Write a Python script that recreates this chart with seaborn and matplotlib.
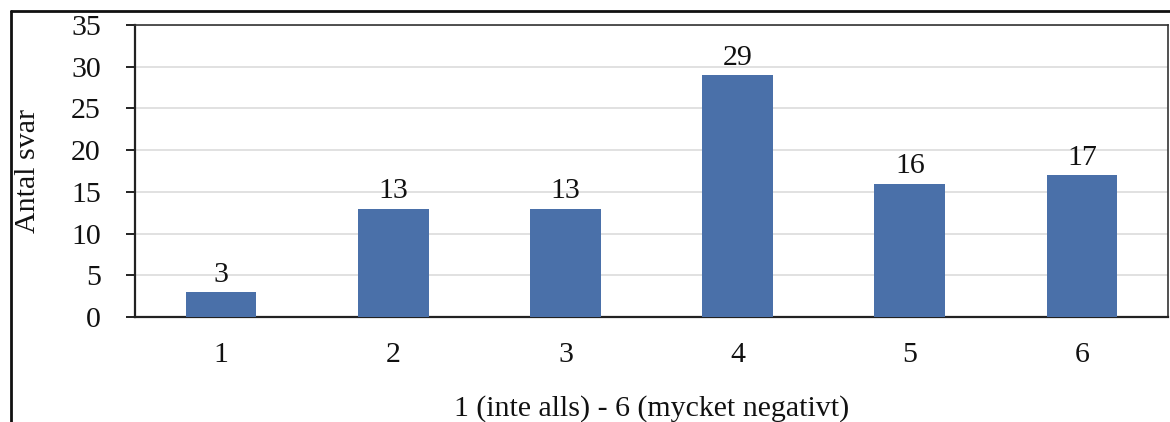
import matplotlib
matplotlib.use("Agg")
import matplotlib.pyplot as plt
from matplotlib.lines import Line2D
import seaborn as sns
import pandas as pd

categories = ["1", "2", "3", "4", "5", "6"]
counts = [3, 13, 13, 29, 16, 17]
y_ticks = [0, 5, 10, 15, 20, 25, 30, 35]

sns.set_theme(style="white")
plt.rcParams["font.family"] = ["Liberation Serif", "DejaVu Serif"]

FS = 21.5
df = pd.DataFrame({"Svar": categories, "Antal": counts})

fig = plt.figure(figsize=(11.7, 4.22), dpi=100)
ax = fig.add_axes([0.1154, 0.2488, 0.8829, 0.692])

sns.barplot(data=df, x="Svar", y="Antal", color="#4a70a9", width=0.41,
            saturation=1, linewidth=0, ax=ax, zorder=3)

for p, v in zip(ax.patches, counts):
    ax.text(p.get_x() + p.get_width() / 2, v + 0.5, str(v),
            ha="center", va="bottom", fontsize=FS, color="#111111")

ax.set_ylim(0, 35)
ax.set_xlim(-0.5, 5.5)
ax.set_yticks(y_ticks)
ax.yaxis.grid(True, color="#dcdcdc", linewidth=1.2, zorder=0)
ax.set_axisbelow(True)

for side in ["top", "right"]:
    ax.spines[side].set_color("#333333")
    ax.spines[side].set_linewidth(1.2)
for side in ["left", "bottom"]:
    ax.spines[side].set_color("#222222")
    ax.spines[side].set_linewidth(1.6)

ax.tick_params(axis="y", which="major", left=True, length=6.5, width=1.4,
               color="#222222", pad=18, labelsize=FS, labelcolor="#111111")
ax.tick_params(axis="x", which="major", bottom=False, length=0, pad=18,
               labelsize=FS, labelcolor="#111111")

ax.set_ylabel("Antal svar", fontsize=FS, color="#111111", va="center")
ax.yaxis.set_label_coords(-0.1036, 0.5)
ax.set_xlabel("1 (inte alls) - 6 (mycket negativt)", fontsize=FS,
              color="#111111", va="center")
ax.xaxis.set_label_coords(0.5, -0.315)

# outer border of the figure panel
fig.add_artist(Line2D([11 / 1170, 11 / 1170], [0, 1 - 11 / 422],
                      transform=fig.transFigure, color="#111111", linewidth=2))
fig.add_artist(Line2D([11 / 1170, 1], [1 - 11 / 422, 1 - 11 / 422],
                      transform=fig.transFigure, color="#111111", linewidth=2))

fig.savefig("out.png", dpi=100)
